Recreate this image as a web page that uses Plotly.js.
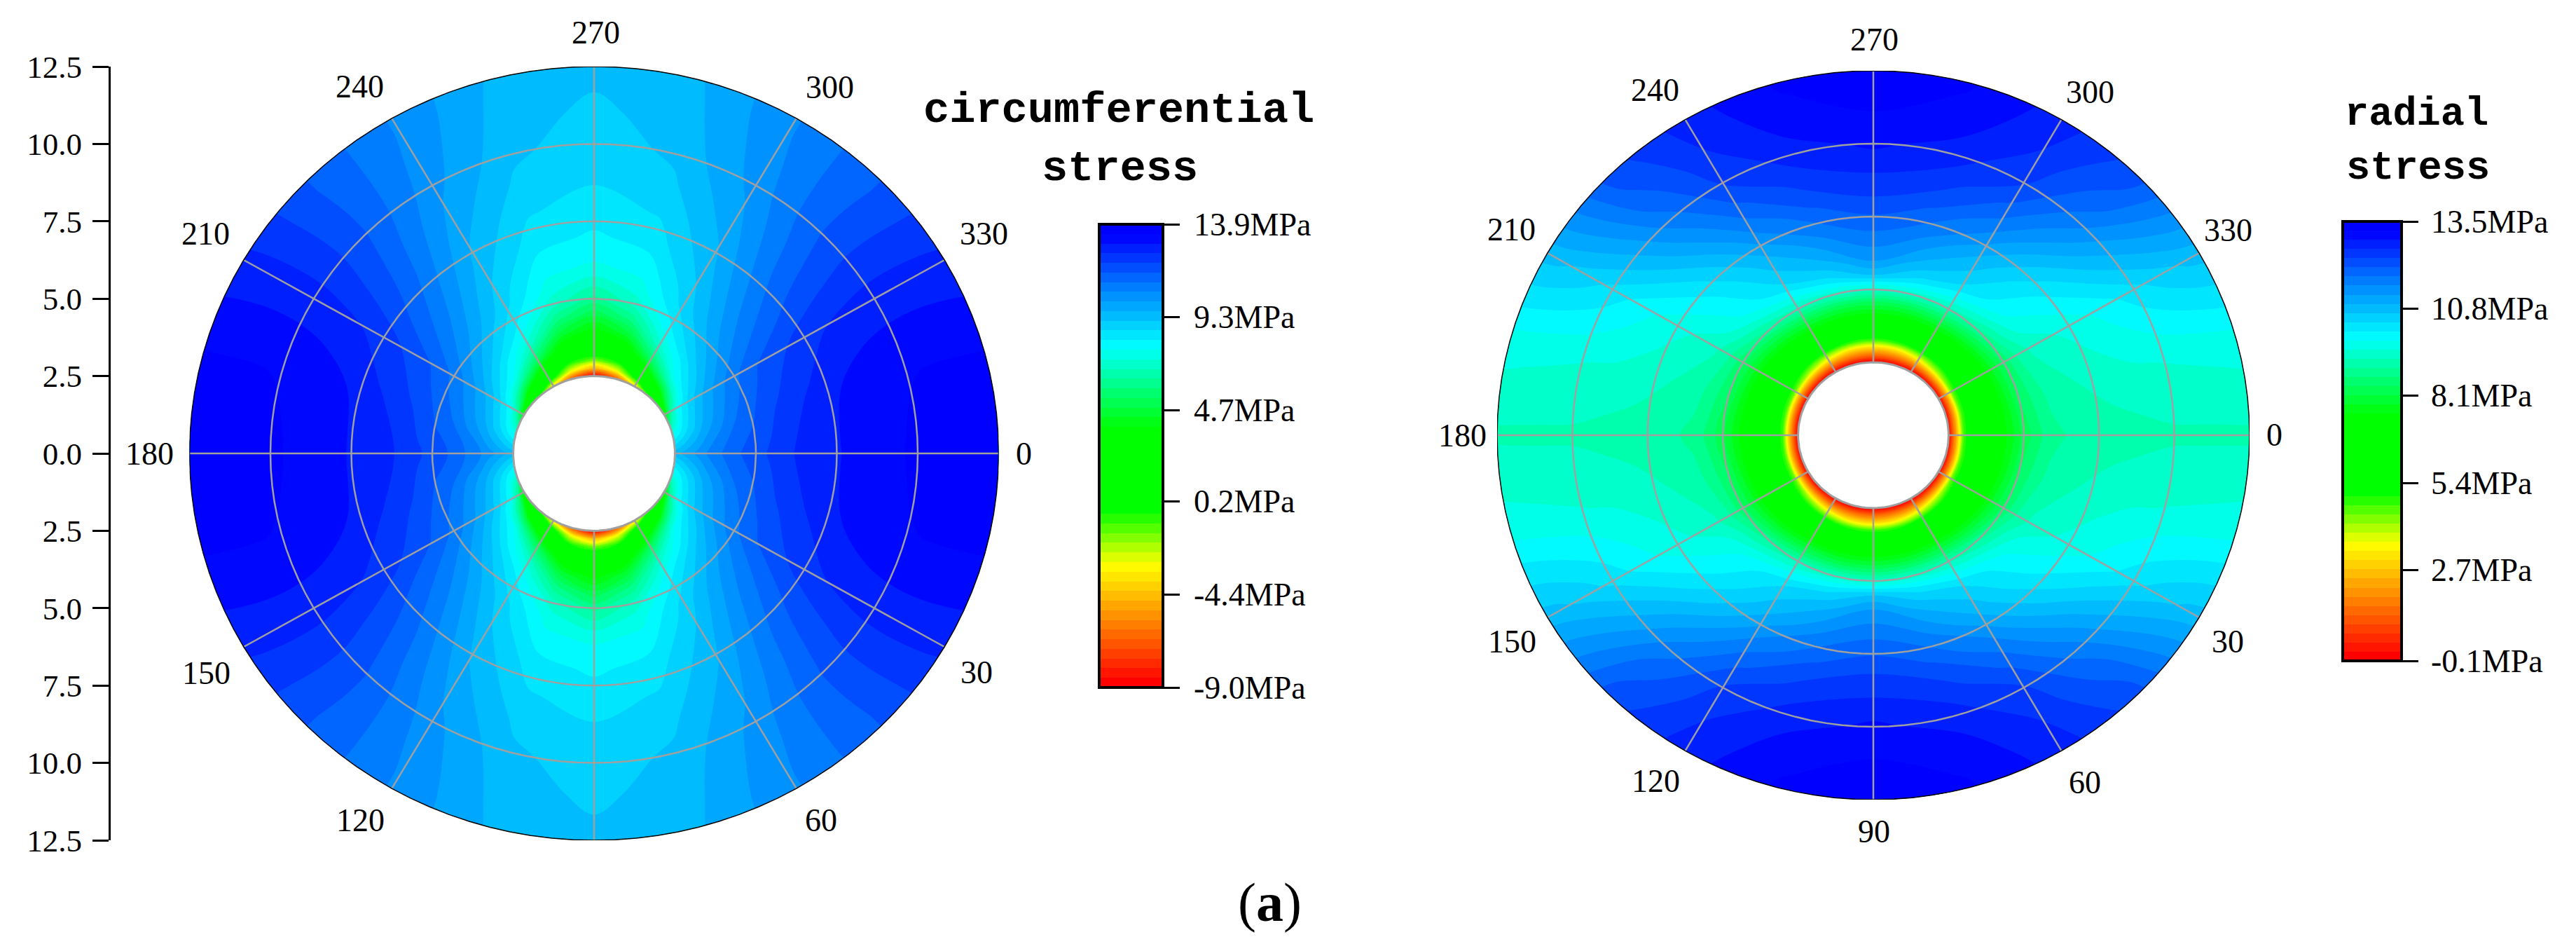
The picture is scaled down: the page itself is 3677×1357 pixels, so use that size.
<!DOCTYPE html>
<html><head><meta charset="utf-8">
<script src="https://cdn.plot.ly/plotly-3.0.1.min.js"></script>
<style>html,body{margin:0;padding:0;background:#fff}</style></head>
<body><div id="chart" style="width:3677px;height:1357px"></div>
<script>
// ---- data ----
const radii = [2.5,2.75,3,3.25,3.5,4,4.5,5,5.5,6,7,8,9,10,11,12,12.5];
const quadrantAngles = [0,15,30,45,60,75,90]; // degrees away from the horizontal
const thetas = [0,15,30,45,60,75,90,105,120,135,150,165,180,195,210,225,240,255,270,285,300,315,330,345,360];

// circumferential stress (MPa): one row per quadrant angle, one column per radius
const circ00 = [9.4,9.7,10,10.3,10.6,11.1,11.5,11.8,12.1,12.4,12.75,13.05,13.3,13.5,13.65,13.75,13.8];
const circ15 = [7.5,8.1,8.7,9.2,9.7,10.4,11,11.4,11.8,12.1,12.6,13,13.3,13.4,13.45,13.45,13.45];
const circ30 = [3.5,6.5,7.9,8.5,9,9.8,10.4,10.9,11.3,11.6,12.05,12.4,12.6,12.7,12.7,12.65,12.6];
const circ45 = [0,2.8,5,6.7,7.7,8.5,9.2,9.7,10.1,10.4,10.85,11.2,11.4,11.55,11.55,11.5,11.5];
const circ60 = [-3.5,0.5,2.5,4,5.3,7,7.9,8.4,8.8,9,9.4,9.7,10,10.25,10.4,10.5,10.5];
const circ75 = [-7,-2.8,-0.5,1.3,3,4.7,6,7,7.5,7.8,8.35,8.7,9,9.25,9.4,9.5,9.55];
const circ90 = [-9,-4.5,-1.5,0.6,2,3.7,5,6.1,6.9,7.6,8.1,8.45,8.75,8.85,9,9.2,9.3];

// radial stress (MPa)
const rad00 = [-0.1,2.2,4.7,5.6,6.2,7,7.6,8.2,8.6,8.9,9.05,9.1,9.15,9.2,9.2,9.2,9.2];
const rad15 = [-0.1,2.1,4.6,5.55,6.15,7,7.7,8.4,8.8,9.05,9.25,9.4,9.5,9.55,9.6,9.65,9.68];
const rad30 = [-0.1,2,4.5,5.5,6.1,7,7.8,8.5,9,9.3,9.55,9.75,10,10.3,10.55,10.75,10.8];
const rad45 = [-0.1,1.9,4,5.2,6,7.1,8,8.9,9.5,9.9,10.2,10.6,11.1,11.5,11.85,12.1,12.2];
const rad60 = [-0.1,1.7,3.5,5,5.9,7.2,8.2,9.2,9.9,10.4,10.9,11.5,12,12.4,12.6,12.75,12.8];
const rad75 = [-0.1,1.6,3.1,4.8,5.8,7.2,8.2,9.4,10.3,10.8,11.5,12.05,12.5,12.8,13.05,13.2,13.25];
const rad90 = [-0.1,1.5,3,4.7,5.7,7.2,8.2,9.4,10.7,11.25,11.8,12.3,12.65,13,13.2,13.35,13.4];

const rings = [5,7.5,10];
const spokes = [0,30,60,90,120,150,180,210,240,270,300,330];
const circTicks = [-9.0,-4.4,0.2,4.7,9.3,13.9];
const radTicks = [-0.1,2.7,5.4,8.1,10.8,13.5];
const radialAxisTicks = [-12.5,-10,-7.5,-5,-2.5,0,2.5,5,7.5,10,12.5];
const radialAxisText = ['12.5','10.0','7.5','5.0','2.5','0.0','2.5','5.0','7.5','10.0','12.5'];

const leftAngleLabels  = ['270','240','210','180','150','120','330','300','0','30','60'];
const leftAngleX = [850,513,293,213,294,514,1404,1184,1461,1394,1172];
const leftAngleY = [46,123,333,647,960,1170,333,124,647,959,1170];
const rightAngleLabels = ['270','240','210','180','150','120','90','60','30','0','330','300'];
const rightAngleX = [2675,2362,2157,2087,2158,2363,2675,2976,3180,3246,3180,2983];
const rightAngleY = [56,128,327,621,915,1114,1186,1116,915,620,328,131];

// ---- page geometry ----
const W = 3677, H = 1357;
const px = v => v / W, py = v => 1 - v / H;
const serif = 'Liberation Serif', mono = 'Liberation Mono';

const colorStops = [[0,'#ff0000'],[0.13,'#ff8000'],[0.26,'#ffff00'],[0.38,'#00ff00'],[0.56,'#00ff00'],
                    [0.65,'#00ff80'],[0.74,'#00ffff'],[0.87,'#0080ff'],[0.985,'#0000ff'],[1,'#0000ff']];

function field(rows){
  return thetas.map(t=>{
    const q = t % 180; const phi = q <= 90 ? q : 180 - q;
    return rows[quadrantAngles.indexOf(phi)];
  });
}
function toXY(){
  return {
    x: thetas.map(t=>radii.map(r=>r*Math.cos(t*Math.PI/180))),
    y: thetas.map(t=>radii.map(r=>r*Math.sin(t*Math.PI/180)))
  };
}
const hiddenCarpetAxis = {startline:false,endline:false,showgrid:false,showline:false,showticklabels:'none',
  tickmode:'array',tickvals:[],minorgridcount:0,smoothing:1};

function panel(id,xa,ya,rows,lo,hi,ticks,cb){
  const n = 48, d = (hi-lo)/n, g = toXY();
  const out = [
    {type:'carpet',carpet:id,a:radii,b:thetas,x:g.x,y:g.y,xaxis:xa,yaxis:ya,aaxis:hiddenCarpetAxis,baxis:hiddenCarpetAxis},
    {type:'contourcarpet',carpet:id,a:radii,b:thetas,z:field(rows),xaxis:xa,yaxis:ya,autocontour:false,
     contours:{start:lo+d,end:hi-d,size:d,coloring:'fill',showlines:false},line:{width:0},
     colorscale:colorStops,zmin:lo,zmax:hi,showscale:true,
     colorbar:Object.assign({xref:'paper',yref:'paper',xanchor:'left',yanchor:'top',xpad:0,ypad:0,
        thicknessmode:'pixels',lenmode:'pixels',outlinewidth:4,outlinecolor:'#000',
        tickmode:'array',tickvals:ticks,showticklabels:false,
        ticks:'outside',tickwidth:2.5,tickcolor:'#000',ticklen:22},
        {x:px(cb.left),y:py(cb.top),thickness:cb.thick,len:cb.len})}
  ];
  const circle = r => { const a=[]; for(let t=0;t<=360;t+=3)a.push(t);
    return {x:a.map(t=>r*Math.cos(t*Math.PI/180)),y:a.map(t=>r*Math.sin(t*Math.PI/180))}; };
  const line = (c,color,w)=>({type:'scatter',mode:'lines',x:c.x,y:c.y,xaxis:xa,yaxis:ya,hoverinfo:'skip',showlegend:false,line:{color,width:w}});
  rings.forEach(r=>out.push(line(circle(r),'#a0a0a0',2.5)));
  spokes.forEach(t=>{
    const c=Math.cos(t*Math.PI/180),s=Math.sin(t*Math.PI/180);
    out.push(line({x:[2.5*c,12.5*c],y:[2.5*s,12.5*s]},'#a0a0a0',2.5));
  });
  out.push(line(circle(2.5),'#a0a0a0',3));
  out.push(line(circle(12.5),'#000000',1.5));
  return out;
}

const cbLeft = {left:1569,top:320,thick:91,len:661,labelX:1702};
const cbRight = {left:3344,top:316,thick:84,len:627,labelX:3468};
const data = [
  ...panel('c1','x','y',[circ00,circ15,circ30,circ45,circ60,circ75,circ90],-9.0,13.9,circTicks,cbLeft),
  ...panel('c2','x2','y2',[rad00,rad15,rad30,rad45,rad60,rad75,rad90],-0.1,13.5,radTicks,cbRight)
];

const textAnn = (text,x,y,size,family,anchor)=>({xref:'paper',yref:'paper',x:px(x),y:py(y),text,showarrow:false,
  xanchor:anchor||'center',yanchor:'middle',font:{family,size,color:'#000'}});
const barLabels = (ticks,cb)=>ticks.map(v=>textAnn(v.toFixed(1)+'MPa',cb.labelX,
  cb.top+(ticks[ticks.length-1]-v)/(ticks[ticks.length-1]-ticks[0])*cb.len,46,serif,'left'));
const annotations = [
  ...leftAngleLabels.map((t,i)=>textAnn(t,leftAngleX[i],leftAngleY[i],46,serif)),
  ...rightAngleLabels.map((t,i)=>textAnn(t,rightAngleX[i],rightAngleY[i],46,serif)),
  ...barLabels(circTicks,cbLeft),
  ...barLabels(radTicks,cbRight),
  textAnn('<b>circumferential</b>',1597,157,62,mono),
  textAnn('<b>stress</b>',1598,241,62,mono),
  textAnn('<b>radial</b>',3449,163,57,mono),
  textAnn('<b>stress</b>',3451,240,57,mono),
  textAnn('(<b>a</b>)',1812,1287,78,serif)
];

const hidden = {visible:false,showgrid:false,zeroline:false,autorange:false};
const layout = {
  width:W,height:H,margin:{l:0,r:0,t:0,b:0},paper_bgcolor:'#fff',plot_bgcolor:'rgba(0,0,0,0)',showlegend:false,
  xaxis:Object.assign({},hidden,{domain:[px(270.5),px(1425.5)],range:[-12.5,12.5],anchor:'y'}),
  yaxis:{domain:[py(1199),py(95)],range:[12.5,-12.5],autorange:false,anchor:'free',position:px(156),side:'left',
    showgrid:false,zeroline:false,showline:true,linecolor:'#000',linewidth:3,ticks:'outside',ticklen:23,tickwidth:2.5,tickcolor:'#000',
    ticklabelstandoff:6,
    tickmode:'array',tickvals:radialAxisTicks,ticktext:radialAxisText,tickfont:{family:serif,size:45,color:'#000'}},
  xaxis2:Object.assign({},hidden,{domain:[px(2137),px(3211)],range:[-12.5,12.5],anchor:'y2'}),
  yaxis2:Object.assign({},hidden,{domain:[py(1141),py(101)],range:[12.5,-12.5],anchor:'x2'}),
  annotations
};
Plotly.newPlot('chart',data,layout,{displayModeBar:false,responsive:false});
</script></body></html>
